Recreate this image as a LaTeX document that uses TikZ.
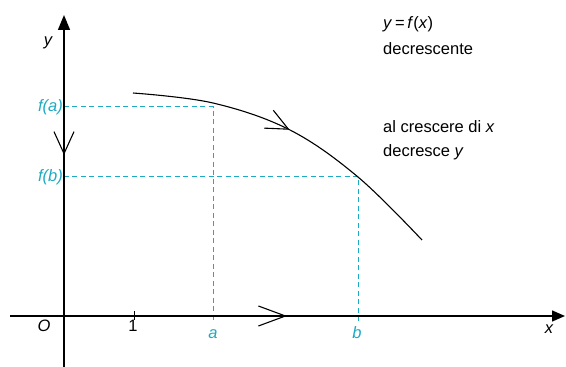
\documentclass[tikz,border=0pt]{standalone}
\usepackage{fontspec}
\setmainfont{Liberation Sans}
\usetikzlibrary{arrows.meta,decorations.markings}
\definecolor{guide}{RGB}{30,170,195}

\tikzset{
  axis/.style={line width=1.4pt},
  guideline/.style={guide, line width=1pt, dash pattern=on 5pt off 3.5pt},
  graph/.style={line width=1.1pt},
  lbl/.style={font=\fontsize{16.5}{19}\selectfont\itshape},
  note/.style={font=\fontsize{16.5}{19}\selectfont, anchor=base west, inner sep=0pt},
  flowmark/.style 2 args={postaction={decorate}, decoration={markings,
    mark=at position #1 with {\arrow{Straight Barb[length=#2,width=20pt,line width=1.1pt]}}}},
  backmark/.style 2 args={postaction={decorate}, decoration={markings,
    mark=at position #1 with {\arrowreversed{Straight Barb[length=#2,width=20pt,line width=1.1pt]}}}}
}

\begin{document}
\begin{tikzpicture}[x=1pt,y=1pt]
\useasboundingbox (-64,-51) rectangle (502,316);

% Points of the graph
\coordinate (O) at (0,0);
\coordinate (A) at (149,0);
\coordinate (B) at (294,0);
\coordinate (fa) at (0,209);
\coordinate (fb) at (0,139);
\coordinate (Pa) at (149,209);
\coordinate (Pb) at (294,139);

% Draw the dashed guides
\draw[guideline] (fa) -- (Pa) -- ([yshift=-6pt]A);
\draw[guideline] (fb) -- (Pb) -- ([yshift=-6pt]B);

% Draw the axes
\draw[axis, -{Triangle[length=13pt,width=11pt]}, flowmark={277pt}{27pt}] (-54,0) -- (501,0);
\draw[axis, -{Triangle[length=15pt,width=12pt]}, backmark={212pt}{22pt}] (0,-51) -- (0,301);
\draw[line width=1pt] (71,-4) -- (71,5);

% Draw the curve
\draw[graph, flowmark={162pt}{22pt}] plot[smooth, tension=0.6] coordinates
  {(69,223) (149,213) (226,186) (294,139) (358,76)};

% Labels
\node[lbl] (ly) at (-16,273) {y};
\node[lbl] (lx) at (485,-13) {x};
\node[lbl] (lO) at (-20,-10) {O};
\node[font=\fontsize{16.5}{19}\selectfont] (l1) at (69,-10) {1};
\node[lbl, guide] (la) at (149,-18) {a};
\node[lbl, guide] (lb) at (293,-17) {b};
\node[lbl, guide, anchor=east, inner sep=1pt] (lfa) at (fa) {f(a)};
\node[lbl, guide, anchor=east, inner sep=1pt] (lfb) at (fb) {f(b)};

% Notes on the right
\node[note] (rule) at (319,287) {\textit{y}\,=\,\textit{f}(\textit{x})};
\node[note] (kind) at (319,261) {decrescente};
\node[note] (when) at (319,183) {al crescere di \textit{x}};
\node[note] (then) at (319,159) {decresce \textit{y}};

\end{tikzpicture}
\end{document}
